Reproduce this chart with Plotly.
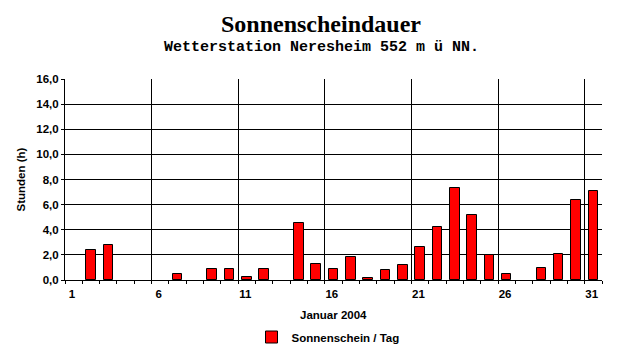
import plotly.graph_objects as go

days = list(range(1, 32))
# None = no sunshine that day (no bar drawn)
sunshine = [None, 2.4, 2.8, None, None, None, 0.45, None, 0.9, 0.85,
            0.2, 0.9, None, 4.5, 1.3, 0.9, 1.8, 0.15, 0.8, 1.2,
            2.6, 4.2, 7.3, 5.2, 2.0, 0.45, None, 0.93, 2.1, 6.4, 7.1]
x_tick_days = [1, 6, 11, 16, 21, 26, 31]
x_tick_labels = [str(d) for d in x_tick_days]
y_ticks = [0, 2, 4, 6, 8, 10, 12, 14, 16]

title = "Sonnenscheindauer"
subtitle = "Wetterstation Neresheim 552 m ü NN."
series_name = "Sonnenschein / Tag"
x_title = "Januar 2004"
y_title = "Stunden (h)"

SANS = "Liberation Sans, Arial, sans-serif"

fig = go.Figure()
fig.add_trace(go.Bar(
    x=days, y=sunshine, name=series_name, width=0.55,
    marker=dict(color="#FF0000", line=dict(color="black", width=1)),
    showlegend=True,
))

fig.update_layout(
    width=642, height=357,
    margin=dict(l=65, r=40, t=79, b=77, autoexpand=False),
    paper_bgcolor="white", plot_bgcolor="white",
    separators=",.",
    font=dict(family=SANS, size=11.5, color="black"),
    title=dict(text="<b>" + title + "</b>", x=0.5, xref="container", xanchor="center",
               y=1 - 24 / 357, yref="container", yanchor="middle",
               font=dict(family="Liberation Serif, Times New Roman, serif", size=24, color="black")),
    showlegend=True,
    legend=dict(orientation="h", x=(328 - 65) / 537, xanchor="center", y=(280.5 - 337.5) / 201,
                yanchor="middle", itemwidth=30,
                font=dict(family=SANS, size=11.5, color="black", weight="bold"),
                bgcolor="rgba(0,0,0,0)"),
    bargap=0,
)

fig.update_xaxes(
    range=[0.5, 31.5],
    tickmode="array",
    tickvals=[d - 0.5 for d in x_tick_days],
    ticktext=x_tick_labels,
    ticklabelshift=7,
    ticks="outside", ticklen=3, tickcolor="black", tickwidth=1,
    showgrid=True, gridcolor="black", gridwidth=1,
    showline=True, linecolor="black", linewidth=1,
    zeroline=False,
    tickfont=dict(family=SANS, size=11.5, color="black", weight="bold"),
    minor=dict(tickmode="linear", tick0=0.5, dtick=1, ticks="outside", ticklen=3,
               tickcolor="black", tickwidth=1, showgrid=False),
    fixedrange=True,
)
fig.update_yaxes(
    range=[0, 16],
    tickmode="array", tickvals=y_ticks, tickformat=".1f",
    ticks="outside", ticklen=3, tickcolor="black", tickwidth=1,
    showgrid=True, gridcolor="black", gridwidth=1,
    showline=True, linecolor="black", linewidth=1,
    zeroline=False,
    tickfont=dict(family=SANS, size=11.5, color="black", weight="bold"),
    fixedrange=True,
)

fig.add_annotation(text=subtitle, xref="paper", yref="paper", x=(321 - 65) / 537, y=(280.5 - 48) / 201,
                   xanchor="center", yanchor="middle", showarrow=False,
                   font=dict(family="Liberation Mono, Courier New, monospace", size=15, color="black", weight="bold"))
fig.add_annotation(text=x_title, xref="paper", yref="paper", x=0.5, y=(280.5 - 315) / 201,
                   xanchor="center", yanchor="middle", showarrow=False,
                   font=dict(family=SANS, size=11.5, color="black", weight="bold"))
fig.add_annotation(text=y_title, xref="paper", yref="paper", x=(20 - 65) / 537, y=0.5,
                   xanchor="center", yanchor="middle", showarrow=False, textangle=-90,
                   font=dict(family=SANS, size=11.5, color="black", weight="bold"))

fig.write_html("out.html")
